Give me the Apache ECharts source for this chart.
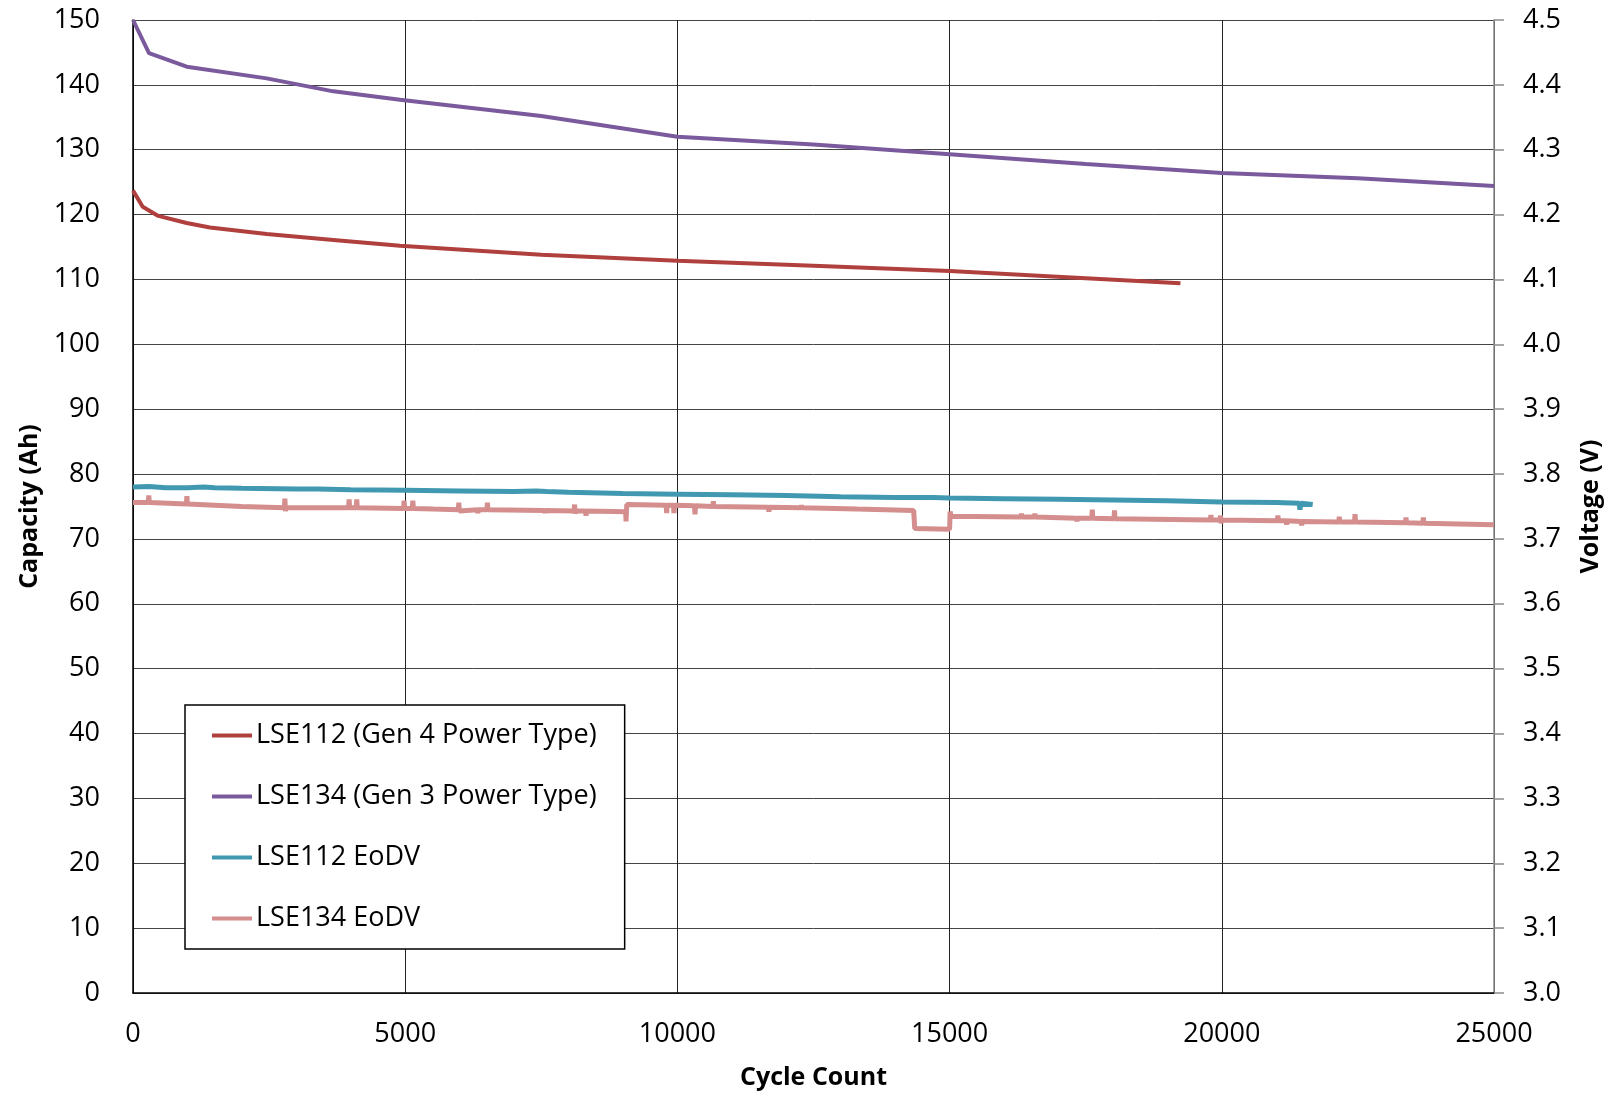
<!DOCTYPE html>
<html>
<head>
<meta charset="utf-8">
<script src="https://cdn.jsdelivr.net/npm/echarts@6/dist/echarts.min.js"></script>
<style>
  html, body { margin: 0; padding: 0; background: #fff; }
  #chart { width: 1613px; height: 1095px; }
</style>
</head>
<body>
<div id="chart"></div>
<script>
// capacity (Ah) vs cycle count
var lse112Cap = [
  [0, 123.7], [178, 121.2], [465, 119.8], [986, 118.7], [1414, 118.0],
  [2456, 117.0], [3680, 116.1], [4905, 115.2], [7500, 113.8], [10000, 112.9],
  [12500, 112.1], [15000, 111.3], [17500, 110.2], [19240, 109.4]
];
var lse134Cap = [
  [0, 150.0], [294, 144.9], [986, 142.8], [2456, 141.0], [3680, 139.0],
  [4905, 137.7], [7500, 135.2], [10000, 132.0], [12500, 130.8], [15000, 129.3],
  [17500, 127.8], [20000, 126.4], [22500, 125.6], [25000, 124.4]
];
// end of discharge voltage (V)
var lse112Eodv = [
  [0, 3.780], [300, 3.781], [600, 3.779], [1000, 3.779], [1300, 3.780], [1500, 3.779],
  [2000, 3.778], [3000, 3.777], [3400, 3.777], [4000, 3.776], [5000, 3.775],
  [6000, 3.774], [7000, 3.773], [7400, 3.774], [7600, 3.773], [8000, 3.772],
  [9000, 3.770], [10000, 3.769], [11000, 3.768], [12000, 3.767], [13000, 3.765],
  [14000, 3.764], [14700, 3.764], [15000, 3.763], [16000, 3.762], [17000, 3.761],
  [18000, 3.760], [19000, 3.759], [20000, 3.757], [21000, 3.756], [21420, 3.755],
  [21436, 3.745], [21450, 3.755], [21670, 3.753]
];
var lse134Eodv = [
  [0, 3.756], [280, 3.756], [290, 3.767], [300, 3.756],
  [980, 3.754], [990, 3.766], [1000, 3.754],
  [2000, 3.750],
  [2780, 3.748], [2790, 3.762], [2800, 3.743], [2810, 3.748],
  [3960, 3.748], [3970, 3.761], [3980, 3.748],
  [4100, 3.748], [4110, 3.761], [4120, 3.748],
  [4970, 3.747], [4980, 3.759], [4990, 3.747],
  [5130, 3.747], [5140, 3.759], [5150, 3.747],
  [5515, 3.746], [5525, 3.743], [5535, 3.746],
  [5975, 3.745], [5985, 3.756], [5995, 3.743], [6005, 3.745],
  [6325, 3.745], [6335, 3.740], [6345, 3.745],
  [6500, 3.745], [6510, 3.756], [6520, 3.745],
  [7556, 3.744], [7566, 3.740], [7576, 3.744],
  [8100, 3.743], [8112, 3.753], [8120, 3.739], [8130, 3.743],
  [8312, 3.743], [8322, 3.736], [8332, 3.743],
  [9050, 3.742], [9056, 3.727], [9066, 3.727], [9070, 3.753],
  [9793, 3.752], [9803, 3.740], [9813, 3.752],
  [9927, 3.752], [9937, 3.740], [9947, 3.752],
  [10313, 3.751], [10323, 3.738], [10333, 3.751],
  [10651, 3.750], [10661, 3.758], [10671, 3.750],
  [11671, 3.749], [11681, 3.742], [11691, 3.749],
  [12268, 3.748], [12278, 3.752], [12288, 3.748],
  [13300, 3.746],
  [14340, 3.744], [14360, 3.716],
  [15000, 3.715], [15010, 3.742], [15030, 3.735],
  [16310, 3.734], [16320, 3.739], [16330, 3.734],
  [16557, 3.734], [16567, 3.739], [16577, 3.734],
  [17330, 3.732], [17340, 3.727], [17350, 3.732],
  [17611, 3.732], [17621, 3.745], [17631, 3.732],
  [18019, 3.731], [18029, 3.744], [18039, 3.731],
  [19790, 3.729], [19800, 3.737], [19810, 3.729],
  [19966, 3.729], [19976, 3.736], [19986, 3.724], [19996, 3.729],
  [21020, 3.728], [21030, 3.736], [21040, 3.728],
  [21181, 3.728], [21191, 3.722], [21201, 3.728],
  [21457, 3.727], [21467, 3.721], [21477, 3.727],
  [22148, 3.726], [22158, 3.734], [22168, 3.726],
  [22437, 3.726], [22447, 3.738], [22457, 3.726],
  [23373, 3.725], [23383, 3.733], [23393, 3.725],
  [23692, 3.724], [23702, 3.733], [23712, 3.724],
  [25000, 3.722]
];
var seriesNames = [
  'LSE112 (Gen 4 Power Type)',
  'LSE134 (Gen 3 Power Type)',
  'LSE112 EoDV',
  'LSE134 EoDV'
];

var FONT = '"Open Sans", "Liberation Sans", sans-serif';

var myChart = echarts.init(document.getElementById('chart'));

function lineSeries(name, data, color, width, axis) {
  return {
    name: name,
    type: 'line',
    yAxisIndex: axis,
    data: data,
    showSymbol: false,
    symbol: 'none',
    smooth: false,
    animation: false,
    lineStyle: { color: color, width: width },
    itemStyle: { color: color }
  };
}

var option = {
  backgroundColor: '#fff',
  animation: false,
  textStyle: { fontFamily: FONT, color: '#000' },
  grid: { left: 133, right: 119, top: 20, bottom: 101 },
  legend: {
    orient: 'vertical',
    left: 185,
    top: 705,
    data: seriesNames,
    icon: 'rect',
    itemWidth: 40,
    itemHeight: 4,
    itemGap: 34,
    padding: [17, 28, 17, 27],
    backgroundColor: '#fff',
    borderColor: '#000',
    borderWidth: 1.5,
    borderRadius: 0,
    textStyle: { fontFamily: FONT, fontSize: 27, color: '#000', lineHeight: 27, padding: [0, 0, 0, -1] }
  },
  xAxis: {
    type: 'value',
    min: 0,
    max: 25000,
    interval: 5000,
    name: 'Cycle Count',
    nameLocation: 'middle',
    nameGap: 72,
    nameTextStyle: { fontFamily: FONT, fontSize: 25, fontWeight: 'bold', color: '#000' },
    axisLine: { show: true, lineStyle: { color: '#000', width: 1.5 } },
    axisTick: { show: false },
    axisLabel: {
      fontFamily: FONT, fontSize: 27, color: '#000', margin: 28,
      formatter: function (v) { return String(v); }
    },
    splitLine: { show: true, lineStyle: { color: '#222', width: 1 } }
  },
  yAxis: [
    {
      type: 'value',
      min: 0,
      max: 150,
      interval: 10,
      name: 'Capacity (Ah)',
      nameLocation: 'middle',
      nameRotate: 90,
      nameGap: 80,
      nameTextStyle: { fontFamily: FONT, fontSize: 25, fontWeight: 'bold', color: '#000' },
      axisLine: { show: true, lineStyle: { color: '#000', width: 1.5 } },
      axisTick: { show: false },
      axisLabel: { fontFamily: FONT, fontSize: 27, color: '#000', margin: 33 },
      splitLine: { show: true, lineStyle: { color: '#444', width: 1 } }
    },
    {
      type: 'value',
      position: 'right',
      min: 3.0,
      max: 4.5,
      interval: 0.1,
      name: 'Voltage (V)',
      nameLocation: 'middle',
      nameRotate: 90,
      nameGap: 84,
      nameTextStyle: { fontFamily: FONT, fontSize: 25, fontWeight: 'bold', color: '#000' },
      axisLine: { show: true, onZero: false, lineStyle: { color: '#8c8c8c', width: 1.5 } },
      axisTick: { show: true, length: 10, lineStyle: { color: '#8c8c8c', width: 1.5 } },
      axisLabel: {
        fontFamily: FONT, fontSize: 27, color: '#000', margin: 29,
        formatter: function (v) { return v.toFixed(1); }
      },
      splitLine: { show: false }
    }
  ],
  series: [
    lineSeries(seriesNames[0], lse112Cap, '#B0403E', 4, 0),
    lineSeries(seriesNames[1], lse134Cap, '#7A5A9C', 4, 0),
    lineSeries(seriesNames[2], lse112Eodv, '#4199B1', 5, 1),
    lineSeries(seriesNames[3], lse134Eodv, '#D48E8D', 5, 1)
  ]
};

option && myChart.setOption(option);
</script>
</body>
</html>
